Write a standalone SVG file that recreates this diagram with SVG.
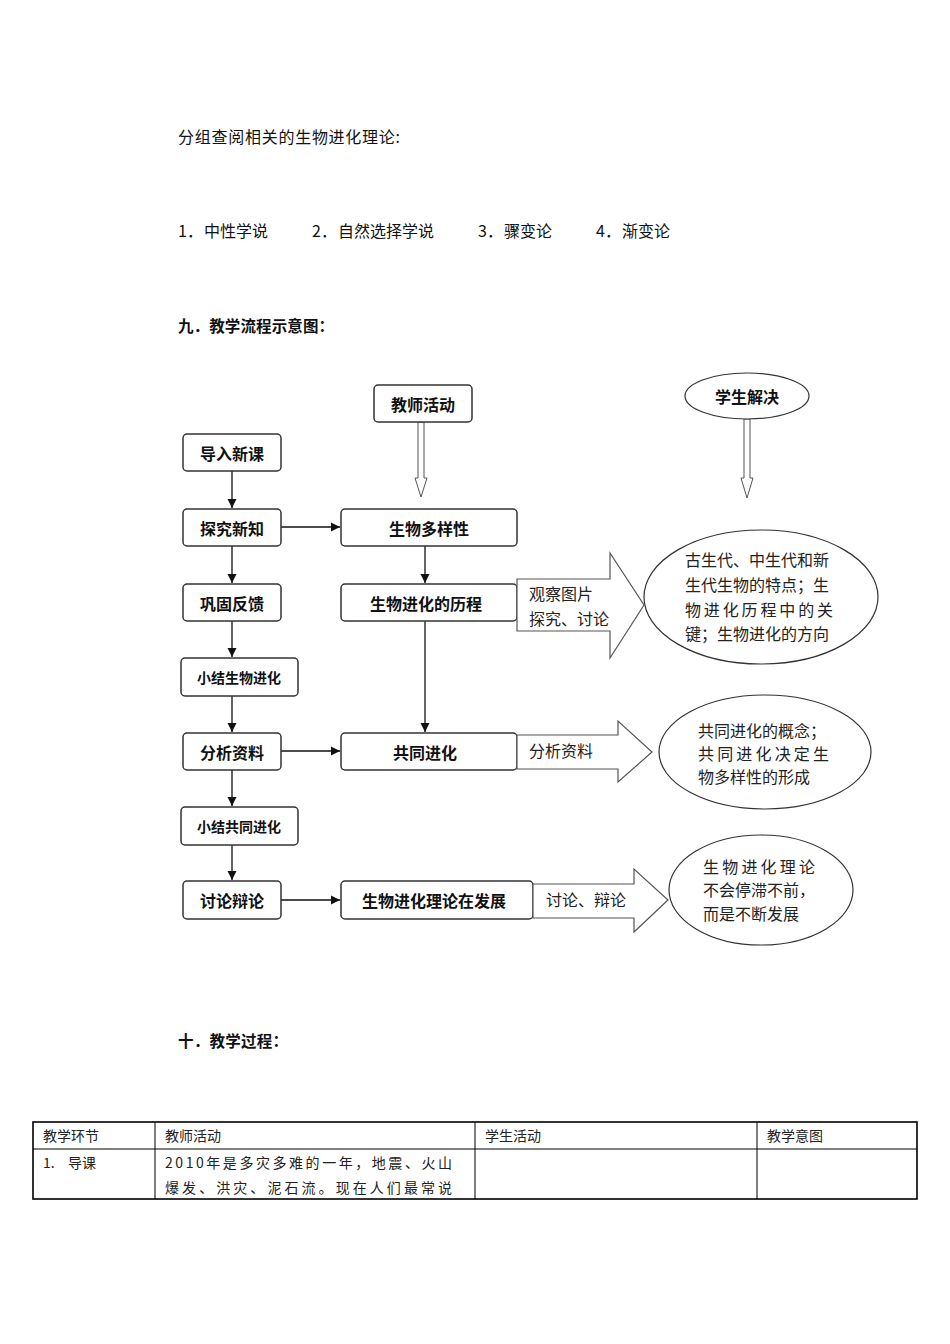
<svg xmlns="http://www.w3.org/2000/svg" width="950" height="1344" viewBox="0 0 950 1344">
<style>
.t{font-family:"Noto Sans CJK SC",sans-serif;font-size:16px;fill:#111}
.h{font-family:"Noto Sans CJK SC",sans-serif;font-size:15.5px;font-weight:bold;fill:#111}
.box{fill:#fff;stroke:#333;stroke-width:1.5}
.nb{font-family:"Noto Sans CJK SC",sans-serif;font-size:16px;font-weight:bold;fill:#111;text-anchor:middle;dominant-baseline:central}
.ns{font-family:"Noto Sans CJK SC",sans-serif;font-size:14px;font-weight:bold;fill:#111;text-anchor:middle;dominant-baseline:central}
.el{fill:#fff;stroke:#333;stroke-width:1.2}
.et{font-family:"Noto Sans CJK SC",sans-serif;font-size:16px;fill:#222}
.big{fill:#fff;stroke:#555;stroke-width:1.2}
.ln{stroke:#111;stroke-width:1.3;fill:none}
.dbl{fill:#fff;stroke:#555;stroke-width:1}
.tb{font-family:"Noto Sans CJK SC",sans-serif;font-size:14px;fill:#222}
.tl{stroke:#000;stroke-width:1}
</style>
<defs>
<marker id="ah" markerWidth="10" markerHeight="10" refX="9" refY="5" orient="auto" markerUnits="userSpaceOnUse">
<path d="M0,0.5 L9,5 L0,9.5 Z" fill="#111"/>
</marker>
</defs>
<rect width="950" height="1344" fill="#fff"/>

<text class="t" x="178" y="143" textLength="222">分组查阅相关的生物进化理论:</text>
<g class="t">
<text x="178" y="237">1．</text><text x="204" y="237">中性学说</text>
<text x="312" y="237">2．</text><text x="338" y="237">自然选择学说</text>
<text x="478" y="237">3．</text><text x="504" y="237">骤变论</text>
<text x="596" y="237">4．</text><text x="622" y="237">渐变论</text>
</g>
<text class="h" x="178" y="332" textLength="156">九．教学流程示意图：</text>

<g id="connectors">
<line class="ln" x1="232" y1="471" x2="232" y2="508" marker-end="url(#ah)"/>
<line class="ln" x1="232" y1="546" x2="232" y2="583" marker-end="url(#ah)"/>
<line class="ln" x1="232" y1="621" x2="232" y2="657" marker-end="url(#ah)"/>
<line class="ln" x1="232" y1="696" x2="232" y2="732" marker-end="url(#ah)"/>
<line class="ln" x1="232" y1="770" x2="232" y2="806" marker-end="url(#ah)"/>
<line class="ln" x1="232" y1="845" x2="232" y2="880" marker-end="url(#ah)"/>
<line class="ln" x1="281" y1="527" x2="340" y2="527" marker-end="url(#ah)"/>
<line class="ln" x1="281" y1="751" x2="340" y2="751" marker-end="url(#ah)"/>
<line class="ln" x1="281" y1="900" x2="340" y2="900" marker-end="url(#ah)"/>
<line class="ln" x1="425" y1="546" x2="425" y2="583" marker-end="url(#ah)"/>
<line class="ln" x1="425" y1="621" x2="425" y2="732" marker-end="url(#ah)"/>
<path class="dbl" d="M418,422 L418,478 L415,478 L421,497 L427,478 L424,478 L424,422 Z"/>
<path class="dbl" d="M744,419 L744,478 L741,478 L747,498 L753,478 L750,478 L750,419 Z"/>
</g>

<g id="n-teacher"><rect class="box" x="374" y="385" width="98" height="37" rx="4"/><text class="nb" x="423" y="404">教师活动</text></g>
<g id="n-student"><ellipse class="el" cx="747" cy="396" rx="62" ry="23"/><text class="nb" x="747" y="396">学生解决</text></g>

<g id="n1"><rect class="box" x="183" y="434" width="98" height="37" rx="4"/><text class="nb" x="232" y="453">导入新课</text></g>
<g id="n2"><rect class="box" x="183" y="509" width="98" height="37" rx="4"/><text class="nb" x="232" y="528">探究新知</text></g>
<g id="n3"><rect class="box" x="183" y="584" width="98" height="37" rx="4"/><text class="nb" x="232" y="603">巩固反馈</text></g>
<g id="n4"><rect class="box" x="181" y="658" width="117" height="38" rx="4"/><text class="ns" x="239" y="677">小结生物进化</text></g>
<g id="n5"><rect class="box" x="183" y="733" width="98" height="37" rx="4"/><text class="nb" x="232" y="752">分析资料</text></g>
<g id="n6"><rect class="box" x="181" y="807" width="117" height="38" rx="4"/><text class="ns" x="239" y="826">小结共同进化</text></g>
<g id="n7"><rect class="box" x="183" y="881" width="98" height="38" rx="4"/><text class="nb" x="232" y="900">讨论辩论</text></g>

<g id="c1"><rect class="box" x="341" y="509" width="176" height="37" rx="4"/><text class="nb" x="429" y="528">生物多样性</text></g>
<g id="c2"><rect class="box" x="341" y="584" width="176" height="37" rx="4"/><text class="nb" x="426" y="603">生物进化的历程</text></g>
<g id="c3"><rect class="box" x="341" y="733" width="176" height="37" rx="4"/><text class="nb" x="425" y="752">共同进化</text></g>
<g id="c4"><rect class="box" x="341" y="881" width="192" height="38" rx="4"/><text class="nb" x="434" y="900">生物进化理论在发展</text></g>

<g id="a1"><path class="big" d="M517,579 L610,579 L610,553 L644,605 L610,658 L610,631 L517,631 Z"/>
<text class="et" x="529" y="600">观察图片</text><text class="et" x="529" y="625">探究、讨论</text></g>
<g id="a2"><path class="big" d="M517,735 L618,735 L618,721 L652,752 L618,782 L618,769 L517,769 Z"/>
<text class="et" x="529" y="757">分析资料</text></g>
<g id="a3"><path class="big" d="M533,884 L634,884 L634,869 L668,900 L634,932 L634,918 L533,918 Z"/>
<text class="et" x="546" y="906">讨论、辩论</text></g>

<g id="e1"><ellipse class="el" cx="761" cy="597" rx="117" ry="67"/>
<text class="et" x="685" y="566">古生代、中生代和新</text>
<text class="et" x="685" y="591">生代生物的特点；生</text>
<text class="et" x="685" y="616" textLength="148">物进化历程中的关</text>
<text class="et" x="685" y="640">键；生物进化的方向</text></g>
<g id="e2"><ellipse class="el" cx="765" cy="752" rx="106" ry="57"/>
<text class="et" x="698" y="737">共同进化的概念；</text>
<text class="et" x="698" y="760" textLength="131">共同进化决定生</text>
<text class="et" x="698" y="783">物多样性的形成</text></g>
<g id="e3"><ellipse class="el" cx="761" cy="890" rx="92" ry="55"/>
<text class="et" x="703" y="873" textLength="112">生物进化理论</text>
<text class="et" x="703" y="896">不会停滞不前，</text>
<text class="et" x="703" y="920">而是不断发展</text></g>

<text class="h" x="178" y="1047" textLength="110">十．教学过程：</text>

<g id="table">
<rect x="33" y="1122" width="884" height="77" fill="none" stroke="#000" stroke-width="1.6"/>
<line class="tl" x1="33" y1="1149" x2="917" y2="1149"/>
<line class="tl" x1="155" y1="1122" x2="155" y2="1199"/>
<line class="tl" x1="475" y1="1122" x2="475" y2="1199"/>
<line class="tl" x1="757" y1="1122" x2="757" y2="1199"/>
<text class="tb" x="43" y="1141">教学环节</text>
<text class="tb" x="165" y="1141">教师活动</text>
<text class="tb" x="485" y="1141">学生活动</text>
<text class="tb" x="767" y="1141">教学意图</text>
<text class="tb" x="43" y="1168">1.</text><text class="tb" x="68" y="1168">导课</text>
<text class="tb" x="165" y="1168" textLength="287">2010年是多灾多难的一年，地震、火山</text>
<text class="tb" x="165" y="1193" textLength="287">爆发、洪灾、泥石流。现在人们最常说</text>
</g>
</svg>
